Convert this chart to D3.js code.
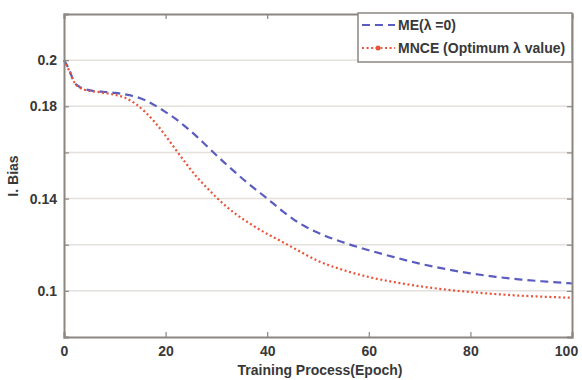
<!DOCTYPE html>
<html>
<head>
<meta charset="utf-8">
<script src="https://cdn.jsdelivr.net/npm/d3@7"></script>
<style>
  body { margin: 0; background: #fff; }
  svg text { font-family: "Liberation Sans", Arial, sans-serif; fill: #383838; font-weight: bold; }
</style>
</head>
<body>
<div id="chart"></div>
<script>
	// data
	var epochs = [0, 1, 2, 3, 4, 6, 8, 10, 12, 14, 16, 18, 20, 22, 24, 26, 28, 30, 32, 34, 36, 38, 40, 43, 46, 50, 55, 60, 65, 70, 75, 80, 85, 90, 95, 100];
	var meBias = [0.2, 0.196, 0.1905, 0.1885, 0.1875, 0.1866, 0.1862, 0.1858, 0.1852, 0.1842, 0.1826, 0.1803, 0.1775, 0.1745, 0.1710, 0.1672, 0.1630, 0.1588, 0.1547, 0.1508, 0.1470, 0.1435, 0.1400, 0.1346, 0.1298, 0.1252, 0.1210, 0.1176, 0.1146, 0.1118, 0.1095, 0.1076, 0.1061, 0.1049, 0.1040, 0.1032];
	var mnceBias = [0.2, 0.1955, 0.1905, 0.1882, 0.1872, 0.1864, 0.1858, 0.1850, 0.1837, 0.1812, 0.1775, 0.1728, 0.1672, 0.1612, 0.1553, 0.1497, 0.1450, 0.1405, 0.1365, 0.1330, 0.1300, 0.1272, 0.1247, 0.1212, 0.1176, 0.1130, 0.1090, 0.1060, 0.1038, 0.1020, 0.1006, 0.0995, 0.0986, 0.0979, 0.0974, 0.0970];
	var xTicks = [0, 20, 40, 60, 80, 100];
	var yTicks = [0.1, 0.12, 0.14, 0.16, 0.18, 0.2];
	var yTickLabels = ["0.1", "", "0.14", "", "0.18", "0.2"];
	var seriesNames = ["ME(\u03bb =0)", "MNCE (Optimum \u03bb value)"];

	// set margins
	var margin = { left: 64, right: 10, top: 14, bottom: 43 },
		width = 582 - margin.left - margin.right,
		height = 380 - margin.top - margin.bottom;

	var svg = d3.select("#chart")
		.append("svg")
			.attr("width", 582)
			.attr("height", 380)
		.append("g")
			.attr("transform", "translate(" + margin.left + "," + margin.top + ")");

	var x = d3.scaleLinear().domain([0, 100]).range([0, width]);
	var y = d3.scaleLinear().domain([0.08, 0.22]).range([height, 0]);

	// horizontal grid
	svg.append("g")
		.selectAll("line")
		.data(yTicks)
		.enter().append("line")
			.attr("x1", 0)
			.attr("x2", width)
			.attr("y1", function(d) { return y(d); })
			.attr("y2", function(d) { return y(d); })
			.attr("stroke", "#e4e0dc")
			.attr("stroke-width", 1.5);

	// curves
	var meRows = epochs.map(function(e, i) { return { e: e, v: meBias[i] }; });
	var mnceRows = epochs.map(function(e, i) { return { e: e, v: mnceBias[i] }; });

	var line = d3.line()
		.x(function(d) { return x(d.e); })
		.y(function(d) { return y(d.v); })
		.curve(d3.curveMonotoneX);

	svg.append("path")
		.datum(meRows)
		.attr("fill", "none")
		.attr("stroke", "#5a5cbf")
		.attr("stroke-width", 2.2)
		.attr("stroke-dasharray", "8,5")
		.attr("d", line);

	svg.append("path")
		.datum(mnceRows)
		.attr("fill", "none")
		.attr("stroke", "#e8553a")
		.attr("stroke-width", 2.2)
		.attr("stroke-dasharray", "2,2.6")
		.attr("d", line);

	// axes (ticks inside, matlab style)
	var frame = "#8c8680";
	var xAxisCall = d3.axisBottom(x).tickValues(xTicks).tickSize(-5).tickPadding(9)
		.tickFormat(function(d) { return d; });
	var xAx = svg.append("g")
		.attr("transform", "translate(0," + height + ")")
		.call(xAxisCall);
	// keep the last label inside the window
	xAx.selectAll(".tick text").filter(function(d) { return d == 100; }).attr("dx", "-6");

	var yAxisCall = d3.axisLeft(y).tickValues(yTicks).tickSize(-5).tickPadding(7)
		.tickFormat(function(d, i) { return yTickLabels[i]; });
	var yAx = svg.append("g").call(yAxisCall);

	var topAx = svg.append("g")
		.call(d3.axisTop(x).tickValues(xTicks).tickSize(-5).tickFormat(""));
	var rightAx = svg.append("g")
		.attr("transform", "translate(" + width + ",0)")
		.call(d3.axisRight(y).tickValues(yTicks).tickSize(-5).tickFormat(""));

	[xAx, yAx, topAx, rightAx].forEach(function(g) {
		g.select(".domain").attr("stroke", frame).attr("stroke-width", 2);
		g.selectAll(".tick line").attr("stroke", frame).attr("stroke-width", 1.2);
		g.selectAll(".tick text")
			.attr("font-size", "14px")
			.attr("font-family", "Liberation Sans, Arial, sans-serif")
			.attr("fill", "#383838");
	});

	// axis labels
	svg.append("text")
		.attr("x", width / 2 + 2)
		.attr("y", height + 38)
		.attr("font-size", "14px")
		.attr("text-anchor", "middle")
		.text("Training Process(Epoch)");

	svg.append("text")
		.attr("transform", "rotate(-90)")
		.attr("x", -(176 - margin.top))
		.attr("y", -46)
		.attr("font-size", "14px")
		.attr("text-anchor", "middle")
		.text("I. Bias");

	// legend
	var legend = svg.append("g")
		.attr("transform", "translate(" + (358 - margin.left) + "," + (13 - margin.top) + ")");

	legend.append("rect")
		.attr("width", width - (358 - margin.left))
		.attr("height", 49)
		.attr("fill", "#fff")
		.attr("stroke", frame)
		.attr("stroke-width", 1.5);

	var legendStyles = [
		{ color: "#5a5cbf", dash: "8,5" },
		{ color: "#e8553a", dash: "2,2.6" }
	];

	seriesNames.forEach(function(name, i) {
		var row = legend.append("g")
			.attr("transform", "translate(0," + (12 + i * 23) + ")");
		row.append("line")
			.attr("x1", 4)
			.attr("x2", 37)
			.attr("stroke", legendStyles[i].color)
			.attr("stroke-width", 2.2)
			.attr("stroke-dasharray", legendStyles[i].dash);
		if (i == 1) {
			row.append("circle")
				.attr("cx", 20)
				.attr("r", 2.5)
				.attr("fill", legendStyles[i].color);
		}
		row.append("text")
			.attr("x", 40)
			.attr("y", 5)
			.attr("font-size", "14px")
			.text(name);
	});
</script>
</body>
</html>
